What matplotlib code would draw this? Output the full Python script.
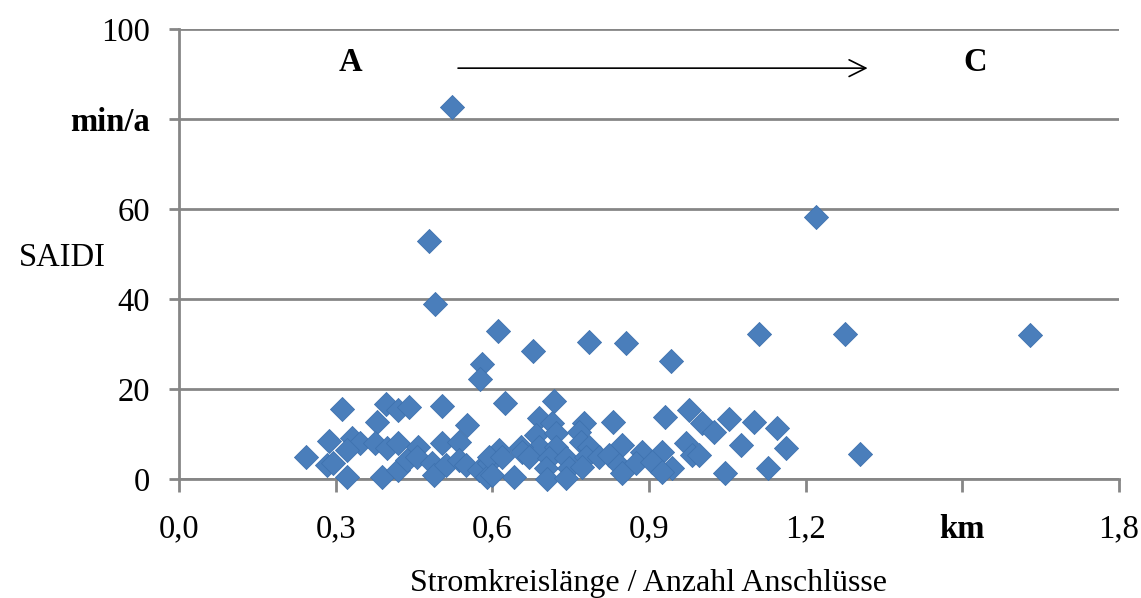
import matplotlib
matplotlib.use("Agg")
import matplotlib.pyplot as plt

# Stromkreislaenge / Anzahl Anschluesse (km) vs. SAIDI (min/a)
km = [0.522, 0.478, 1.219, 0.491, 0.611, 1.110, 1.275, 1.630, 0.678, 0.785,
      0.856, 0.942, 0.581, 0.577, 0.625, 0.719,
      0.313, 0.397, 0.419, 0.440, 0.504, 0.380, 0.552, 0.287, 0.331, 0.346,
      0.375, 0.399, 0.419, 0.457, 0.503, 0.537, 0.243, 0.283, 0.294, 0.321,
      0.321, 0.388, 0.419, 0.436, 0.455, 0.485, 0.489, 0.512, 0.537, 0.550,
      0.575, 0.594, 0.589,
      0.690, 0.715, 0.776, 0.831, 0.931, 0.976, 1.001, 0.684, 0.722, 0.766,
      0.770, 0.690, 0.722, 0.613, 0.655, 0.657, 0.785, 0.848, 0.971, 0.982,
      0.594, 0.619, 0.671, 0.709, 0.741, 0.780, 0.805, 0.824, 0.887, 0.925,
      0.703, 0.747, 0.772, 0.843, 0.875, 0.906, 0.944, 0.642, 0.705, 0.741,
      0.600, 0.848, 0.925,
      1.053, 1.101, 1.145, 1.024, 1.076, 1.162, 0.996, 1.305, 1.045, 1.127]
saidi = [82.7, 52.9, 58.2, 38.9, 32.9, 32.2, 32.2, 32.0, 28.4, 30.4,
         30.2, 26.2, 25.6, 22.2, 16.9, 17.3,
         15.5, 16.7, 15.3, 16.0, 16.2, 12.7, 12.0, 8.4, 9.1, 8.0,
         8.0, 6.9, 8.0, 7.1, 8.0, 8.2, 4.9, 3.1, 3.6, 6.4,
         0.4, 0.4, 2.0, 4.2, 4.9, 3.6, 0.9, 3.1, 4.2, 3.1,
         2.0, 3.6, 0.4,
         13.6, 12.4, 12.4, 12.7, 13.8, 15.3, 12.4, 9.8, 10.2, 10.4,
         8.2, 7.1, 7.1, 6.4, 7.1, 6.0, 7.1, 7.6, 8.0, 5.3,
         4.9, 4.9, 4.9, 4.7, 4.7, 4.9, 4.9, 5.3, 6.0, 6.0,
         2.4, 2.4, 2.7, 3.1, 3.6, 3.8, 2.4, 0.4, 0.0, 0.2,
         0.9, 1.3, 1.6,
         13.3, 12.7, 11.3, 10.4, 7.6, 6.9, 5.3, 5.6, 1.3, 2.4]

x_ticks = [0.0, 0.3, 0.6, 0.9, 1.2, 1.5, 1.8]
x_labels = ["0,0", "0,3", "0,6", "0,9", "1,2", "km", "1,8"]
y_ticks = [0, 20, 40, 60, 80, 100]
y_labels = ["0", "20", "40", "60", "min/a", "100"]

plt.rcParams['font.family'] = ['Liberation Serif', 'DejaVu Serif']
grey = '#868686'
fs = 23.5

fig = plt.figure(figsize=(11.41, 5.98), dpi=100)
ax = fig.add_axes([0.1569, 0.199, 0.8238, 0.7525])

ax.grid(True, axis='y', color=grey, linewidth=2, zorder=0)
ax.scatter(km, saidi, marker='D', s=150, color='#4A7EBB',
           edgecolors='#3F72AF', linewidths=0.6, zorder=3, clip_on=False)

ax.set_xlim(0, 1.8)
ax.set_ylim(0, 100)
ax.set_xticks(x_ticks)
ax.set_xticklabels(x_labels)
ax.set_yticks(y_ticks)
ax.set_yticklabels(y_labels)
for lab in ax.get_xticklabels():
    if lab.get_text() == "km":
        lab.set_fontweight('bold')
for lab in ax.get_yticklabels():
    if lab.get_text() == "min/a":
        lab.set_fontweight('bold')

ax.tick_params(axis='both', labelsize=fs, color=grey, width=2,
               direction='out')
ax.tick_params(axis='x', length=9, pad=16)
ax.tick_params(axis='y', length=7, pad=14)
for s in ['top', 'right']:
    ax.spines[s].set_visible(False)
for s in ['left', 'bottom']:
    ax.spines[s].set_color(grey)
    ax.spines[s].set_linewidth(2)
ax.spines['bottom'].set_zorder(2)

ax.text(0.329, 92.5, "A", fontsize=fs, fontweight='bold', ha='center', va='center')
ax.text(1.525, 92.5, "C", fontsize=fs, fontweight='bold', ha='center', va='center')
ax.annotate("", xy=(1.324, 91.3), xytext=(0.529, 91.3),
            arrowprops=dict(arrowstyle='->', color='black', lw=1.2,
                            mutation_scale=30))

fig.text(62 / 1141, 1 - 258 / 598, "SAIDI", fontsize=fs, ha='center', va='center')
fig.text(648 / 1141, 1 - 583 / 598, "Stromkreislänge / Anzahl Anschlüsse",
         fontsize=23, ha='center', va='center')

fig.savefig("out.png", dpi=100)
